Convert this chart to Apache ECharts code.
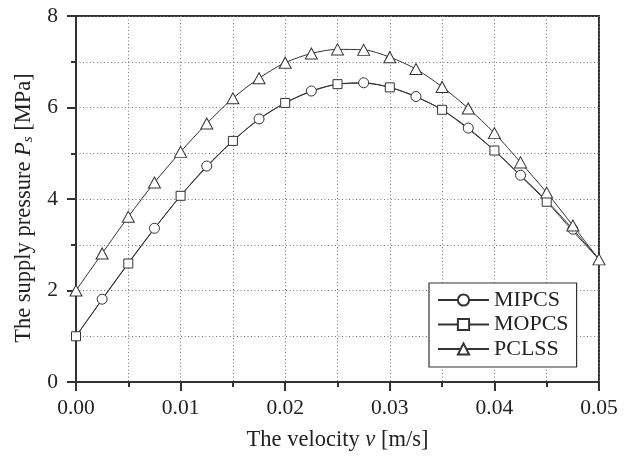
<!DOCTYPE html>
<html><head><meta charset="utf-8">
<script src="https://cdn.jsdelivr.net/npm/echarts@6/dist/echarts.min.js"></script>
<style>html,body{margin:0;padding:0;background:#fff}#c{width:629px;height:461px}</style>
</head><body><div id="c"></div>
<script>
var velocity = [0, 0.0025, 0.005, 0.0075, 0.01, 0.0125, 0.015, 0.0175, 0.02, 0.0225, 0.025,
  0.0275, 0.03, 0.0325, 0.035, 0.0375, 0.04, 0.0425, 0.045, 0.0475, 0.05];
var mipcs = [1.0, 1.81, 2.60, 3.36, 4.07, 4.72, 5.27, 5.75, 6.10, 6.36, 6.51, 6.54, 6.44, 6.24, 5.95, 5.55, 5.06, 4.52, 3.96, 3.34, 2.68];
var mopcs = [1.0, 1.80, 2.59, 3.35, 4.07, 4.70, 5.27, 5.74, 6.10, 6.35, 6.51, 6.53, 6.44, 6.23, 5.95, 5.53, 5.06, 4.50, 3.94, 3.30, 2.68];
var pclss = [2.0, 2.81, 3.61, 4.36, 5.03, 5.65, 6.20, 6.64, 6.98, 7.18, 7.27, 7.26, 7.10, 6.84, 6.45, 5.98, 5.44, 4.80, 4.14, 3.42, 2.68];
var xTicks = ['0.00', '0.01', '0.02', '0.03', '0.04', '0.05'];
var yTicks = ['0', '2', '4', '6', '8'];

var FONT = 'Liberation Serif';
var LINE = '#333';

function build(vals, showFn) {
  return vals.map(function (v, i) {
    var item = { value: [velocity[i], v] };
    if (!showFn(i)) item.symbol = 'none';
    return item;
  });
}

var chart = echarts.init(document.getElementById('c'), null, { renderer: 'canvas' });
var gridLine = { show: true, lineStyle: { color: '#777', type: [1, 2.5], width: 1 } };
chart.setOption({
  backgroundColor: '#fff',
  animation: false,
  textStyle: { fontFamily: FONT },
  grid: { left: 76, right: 30, top: 16, bottom: 79, show: true, borderColor: '#333', borderWidth: 2, backgroundColor: 'transparent' },
  legend: {
    orient: 'vertical', left: 429, top: 283,
    backgroundColor: '#fff', borderColor: '#333', borderWidth: 1.2,
    padding: [5, 8, 6, 8], itemGap: 0.5, itemWidth: 51, itemHeight: 14,
    textStyle: { fontFamily: FONT, fontSize: 22, color: '#222', lineHeight: 24 },
    data: ['MIPCS', 'MOPCS', 'PCLSS']
  },
  xAxis: {
    type: 'value', min: 0, max: 0.05, interval: 0.01,
    name: 'The velocity {i|v} [m/s]', nameLocation: 'middle', nameGap: 47,
    nameTextStyle: { fontFamily: FONT, fontSize: 22.5, color: '#222',
      rich: { i: { fontFamily: FONT, fontSize: 22.5, fontStyle: 'italic', color: '#222' } } },
    axisLine: { show: true, lineStyle: { color: '#333', width: 2 } },
    axisTick: { show: true, inside: false, length: 9, lineStyle: { color: '#333', width: 2 } },
    minorTick: { show: true, splitNumber: 2, length: 5, lineStyle: { color: '#333', width: 2 } },
    axisLabel: { fontFamily: FONT, fontSize: 21.5, color: '#222', margin: 15,
      formatter: function (v) { return xTicks[Math.round(v / 0.01)]; } },
    splitLine: gridLine,
    minorSplitLine: gridLine
  },
  yAxis: {
    type: 'value', min: 0, max: 8, interval: 2,
    name: 'The supply pressure {i|P}{s|s} [MPa]', nameLocation: 'middle', nameGap: 40,
    nameTextStyle: { fontFamily: FONT, fontSize: 22.5, color: '#222', padding: [0, 18, 0, 0],
      rich: {
        i: { fontFamily: FONT, fontSize: 22.5, fontStyle: 'italic', color: '#222' },
        s: { fontFamily: FONT, fontSize: 15, fontStyle: 'italic', color: '#222', verticalAlign: 'bottom', padding: [8, 0, 0, 0] }
      } },
    axisLine: { show: true, lineStyle: { color: '#333', width: 2 } },
    axisTick: { show: true, inside: false, length: 9, lineStyle: { color: '#333', width: 2 } },
    minorTick: { show: true, splitNumber: 2, length: 5, lineStyle: { color: '#333', width: 2 } },
    axisLabel: { fontFamily: FONT, fontSize: 21.5, color: '#222', margin: 18,
      formatter: function (v) { return yTicks[Math.round(v / 2)]; } },
    splitLine: gridLine,
    minorSplitLine: gridLine
  },
  series: [
    { name: 'MIPCS', type: 'line', smooth: 0.3, symbol: 'circle', symbolSize: 10, showAllSymbol: true,
      lineStyle: { color: LINE, width: 1 }, itemStyle: { color: '#fff', borderColor: LINE, borderWidth: 1 },
      data: build(mipcs, function (i) { return i % 2 === 1; }) },
    { name: 'MOPCS', type: 'line', smooth: 0.3, symbol: 'rect', symbolSize: 9, showAllSymbol: true,
      lineStyle: { color: LINE, width: 1 }, itemStyle: { color: '#fff', borderColor: LINE, borderWidth: 1 },
      data: build(mopcs, function (i) { return i % 2 === 0 && i < 20; }) },
    { name: 'PCLSS', type: 'line', smooth: 0.3, symbol: 'triangle', symbolSize: [12, 11], showAllSymbol: true,
      lineStyle: { color: LINE, width: 1 }, itemStyle: { color: '#fff', borderColor: LINE, borderWidth: 1 },
      data: build(pclss, function () { return true; }) }
  ]
});
</script>
</body></html>
